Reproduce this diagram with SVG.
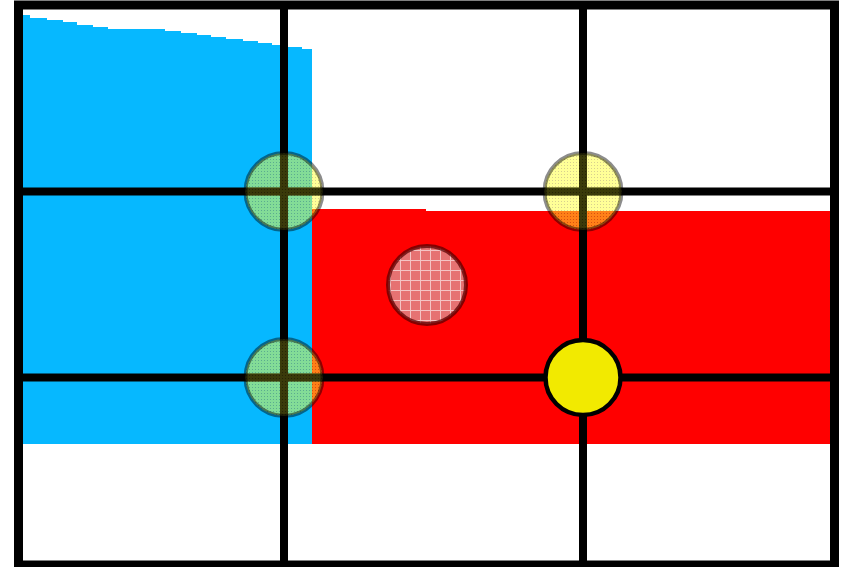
<svg xmlns="http://www.w3.org/2000/svg" width="841" height="567" viewBox="0 0 841 567">
<defs>
<pattern id="pinkgrid" x="0" y="0" width="10" height="10" patternUnits="userSpaceOnUse">
<rect width="10" height="10" fill="#e67272"/>
<path d="M0 0.5H10M0.5 0V10" stroke="#f4c4c4" stroke-width="1"/>
</pattern>
<pattern id="dots" x="0" y="0" width="3" height="3" patternUnits="userSpaceOnUse">
<rect width="3" height="3" fill="#ffff30"/>
<rect width="1" height="1" fill="#b0a020"/>
</pattern>
</defs>
<style>
.grid{stroke:#000;stroke-width:8;fill:none}
.soft{fill:url(#dots);fill-opacity:0.5;stroke:#000;stroke-opacity:0.45;stroke-width:4}
.over{stroke:#000;stroke-opacity:0.55;stroke-width:8}
</style>
<rect width="841" height="567" fill="#fff"/>
<g id="blue-area">
<polygon fill="#06b8ff" points="23,15 30,15 30,18 47,18 47,20 63,20 63,22 77,22 77,25 93,25 93,27 108,27 108,29 165,29 165,31 181,31 181,33 197,33 197,35 211,35 211,37 226,37 226,39 243,39 243,41 258,41 258,43 272,43 272,45 288,45 288,47 302,47 302,49 312,49 312,444 23,444"/>
</g>
<g id="red-area">
<polygon fill="#ff0000" points="312,209 426,209 426,211 830,211 830,444 312,444"/>
</g>
<g id="connectors">
<line class="grid" x1="284" y1="5" x2="284" y2="565"/>
<line class="grid" x1="583" y1="5" x2="583" y2="565"/>
<line class="grid" x1="18" y1="191.5" x2="835" y2="191.5"/>
<line class="grid" x1="18" y1="377.5" x2="835" y2="377.5"/>
</g>
<g id="frame">
<rect x="18.5" y="5" width="816" height="560" fill="none" stroke="#000" stroke-width="9"/>
</g>
<g id="point-top-left"><circle class="soft" cx="284" cy="191.5" r="38.5"/>
<path class="over" d="M284 153V230M245.5 191.5H322.5"/></g>
<g id="point-top-right"><circle class="soft" cx="583" cy="191.5" r="38.5"/>
<path class="over" d="M583 153V230M544.5 191.5H621.5"/></g>
<g id="point-bottom-left"><circle class="soft" cx="284" cy="377.5" r="38.5"/>
<path class="over" d="M284 339V416M245.5 377.5H322.5"/></g>
<g id="point-center"><circle cx="427" cy="285" r="39" fill="url(#pinkgrid)" stroke="#5a0000" stroke-opacity="0.75" stroke-width="4"/></g>
<g id="point-bottom-right"><circle cx="583" cy="377.5" r="37.5" fill="#f2ea00" stroke="#000" stroke-width="4.5"/></g>
</svg>
